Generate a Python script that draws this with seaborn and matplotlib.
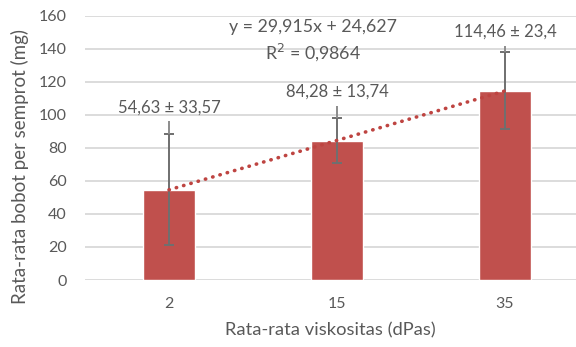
import matplotlib
matplotlib.use("Agg")
import matplotlib.pyplot as plt
import seaborn as sns
import pandas as pd

# Data
viscosity = ["2", "15", "35"]
mean_weight = [54.63, 84.28, 114.46]
sd_weight = [33.57, 13.74, 23.4]
value_labels = ["54,63 ± 33,57", "84,28 ± 13,74", "114,46 ± 23,4"]
label_y = [104.5, 113.8, 150.0]          # label placement (data units)
trend_slope = 29.915
trend_intercept = 24.627
r_squared = "0,9864"
y_ticks = [0, 20, 40, 60, 80, 100, 120, 140, 160]

sns.set_theme(style="white")
plt.rcParams["font.family"] = ["Lato", "DejaVu Sans"]

text_color = "#595959"
bar_color = "#C0504D"
grid_color = "#D9D9D9"
err_color = "#6F6F6F"

df = pd.DataFrame({"viscosity": viscosity, "weight": mean_weight})

fig = plt.figure(figsize=(5.76, 3.47), dpi=100)
ax = fig.add_axes([85 / 576, 1 - 280 / 347, 504 / 576, (280 - 15.5) / 347])

sns.barplot(data=df, x="viscosity", y="weight", color=bar_color, width=0.315,
            saturation=1, ax=ax, zorder=2)

pos = list(range(len(viscosity)))

# Error bars plus leader lines up to the value labels
ax.errorbar(pos, mean_weight, yerr=sd_weight, fmt="none", ecolor=err_color,
            elinewidth=1.4, capsize=3.8, capthick=1.4, zorder=3)
tops = [m + s for m, s in zip(mean_weight, sd_weight)]
ax.vlines(pos, tops, [ly - 8.5 for ly in label_y], color="#8C8C8C",
          linewidth=1.4, zorder=3)

for x, ly, txt in zip(pos, label_y, value_labels):
    ax.text(x, ly, txt, ha="center", va="center", fontsize=12, color=text_color)

# Linear trendline (x = 1, 2, 3 in category index)
trend_x = [p + 1 for p in pos]
trend_y = [trend_slope * t + trend_intercept for t in trend_x]
ax.plot(pos, trend_y, color="#BE4441", linewidth=2.6,
        linestyle=(0, (0.1, 2.0)), dash_capstyle="round", zorder=4)

eq = f"y = {trend_slope:.3f}x + {trend_intercept:.3f}".replace(".", ",")
ax.text(0.86, 153.0, eq, ha="center", va="center", fontsize=12.8, color=text_color)
ax.text(0.86, 137.8, f"R$^2$ = {r_squared}", ha="center", va="center",
        fontsize=12.8, color=text_color)

ax.set_ylim(0, 160)
ax.set_xlim(-0.5, 2.5)
ax.set_yticks(y_ticks)
ax.yaxis.grid(True, color=grid_color, linewidth=1.3, zorder=0)
ax.set_axisbelow(True)
for s in ax.spines.values():
    s.set_visible(False)
ax.tick_params(axis="both", length=0, labelsize=11.5, colors=text_color)
ax.tick_params(axis="y", pad=13)
ax.tick_params(axis="x", pad=12)

ax.set_xlabel("Rata-rata viskositas (dPas)", fontsize=13.2, color=text_color)
ax.set_ylabel("Rata-rata bobot per semprot (mg)", fontsize=13.5, color=text_color)
ax.xaxis.set_label_coords((330 - 85) / 504, -(322 - 280) / 264.5)
ax.yaxis.set_label_coords(-(85 - 29) / 504, (280 - 166) / 264.5)

fig.savefig("out.png", dpi=100)
